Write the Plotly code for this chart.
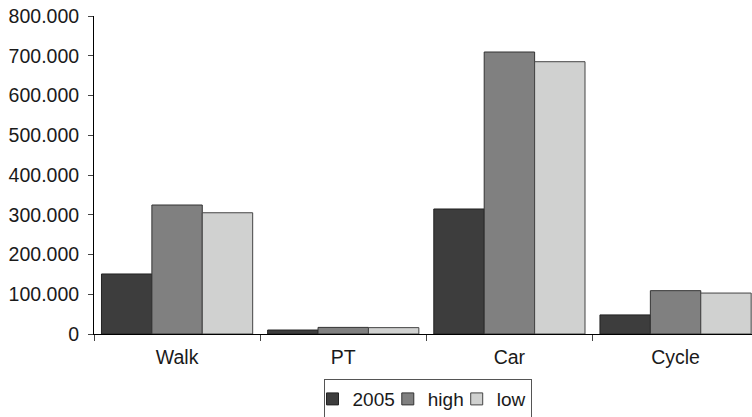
import plotly.graph_objects as go

categories = ["Walk", "PT", "Car", "Cycle"]
series_names = ["2005", "high", "low"]
values_2005 = [151000, 10000, 314500, 48000]
values_high = [324500, 16600, 709400, 109000]
values_low = [305000, 16000, 685000, 103000]
fill_colors = ["#3d3d3d", "#808080", "#d0d1d0"]
line_colors = ["#222222", "#333333", "#444444"]

fig = go.Figure()
for name, vals, fc, lc in zip(series_names, [values_2005, values_high, values_low], fill_colors, line_colors):
    fig.add_trace(go.Bar(
        x=categories, y=vals, name=name,
        marker=dict(color=fc, line=dict(color=lc, width=1)),
    ))

font_family = "Liberation Sans, Arial, sans-serif"
fig.update_layout(
    width=752, height=417,
    margin=dict(l=94, r=0, t=16, b=83, autoexpand=False),
    paper_bgcolor="white", plot_bgcolor="white",
    barmode="group", bargap=0.09, bargroupgap=0,
    separators=",.",
    font=dict(family=font_family, size=19.5, color="#1a1a1a"),
    showlegend=True,
    legend=dict(
        orientation="h", xref="container", yref="container",
        x=0.5685, xanchor="center", y=0.091, yanchor="top",
        bordercolor="#555555", borderwidth=1,
        font=dict(size=19), itemwidth=30, tracegroupgap=0,
        indentation=-12,
    ),
)
fig.update_xaxes(
    range=[-0.5, 3.46], showline=True, linecolor="black", linewidth=1,
    ticks="outside", tickson="boundaries", ticklen=6, tickcolor="#444444",
    ticklabelstandoff=6,
    showgrid=False, zeroline=False,
)
fig.update_yaxes(
    range=[0, 800000], dtick=100000, tick0=0, tickformat=",.0f",
    showline=True, linecolor="black", linewidth=1,
    ticks="outside", ticklen=5, tickcolor="#444444",
    ticklabelstandoff=5,
    showgrid=False, zeroline=False,
)
fig.write_html(
    "out.html",
    config={"displayModeBar": False},
    post_script="document.body.style.margin='0';document.body.style.overflow='hidden';",
)
